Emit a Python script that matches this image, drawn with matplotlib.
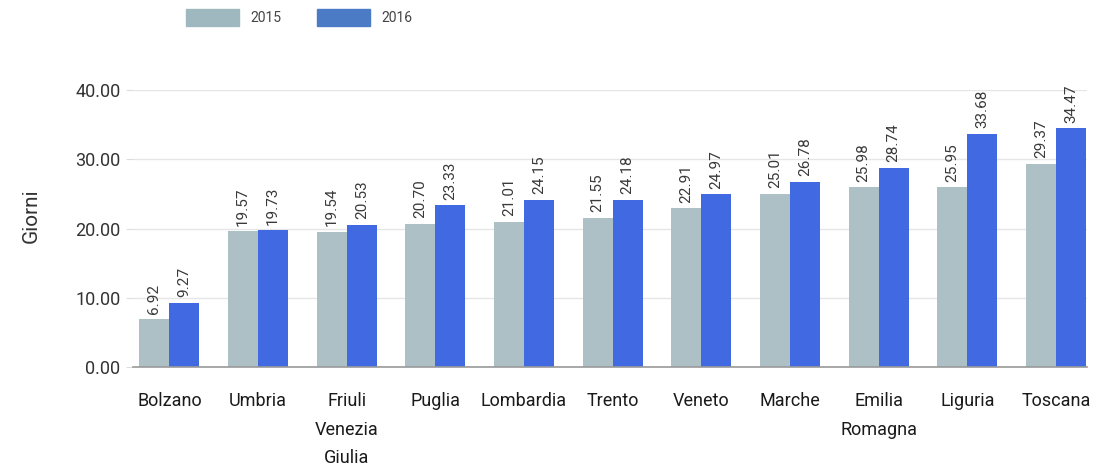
import numpy as np
import matplotlib.pyplot as plt
from matplotlib.patches import Patch

plt.rcParams['font.family'] = ['Roboto', 'DejaVu Sans']

# Giorni per regione, 2015 e 2016
regioni = ['Bolzano', 'Umbria', 'Friuli\nVenezia\nGiulia', 'Puglia', 'Lombardia', 'Trento',
           'Veneto', 'Marche', 'Emilia\nRomagna', 'Liguria', 'Toscana']
giorni_2015 = [6.92, 19.57, 19.54, 20.70, 21.01, 21.55, 22.91, 25.01, 25.98, 25.95, 29.37]
giorni_2016 = [9.27, 19.73, 20.53, 23.33, 24.15, 24.18, 24.97, 26.78, 28.74, 33.68, 34.47]
yticks = [0, 10, 20, 30, 40]

fig = plt.figure(figsize=(11.01, 4.71), dpi=100)
ax = fig.add_axes([0.1208, 0.2208, 0.8665, 0.5881])

x = np.arange(len(regioni))
w = 0.34
b1 = ax.bar(x - w / 2, giorni_2015, w, color='#adc0c6', zorder=2)
b2 = ax.bar(x + w / 2, giorni_2016, w, color='#4169e1', zorder=2)

for bars, vals in [(b1, giorni_2015), (b2, giorni_2016)]:
    for r, v in zip(bars, vals):
        ax.annotate(f'{v:.2f}', (r.get_x() + r.get_width() / 2, v), xytext=(0, 4),
                    textcoords='offset points', rotation=90, ha='center', va='bottom',
                    fontsize=11, color='#3a3a3a', annotation_clip=False)

ax.set_xlim(-0.41, 10.35)
ax.set_ylim(0, 40)
ax.set_yticks(yticks)
ax.set_yticklabels([f'{t:.2f}' for t in yticks], fontsize=13, color='#333333')
ax.set_xticks(x)
ax.set_xticklabels(regioni, fontsize=13, color='#1a1a1a', linespacing=1.75)
ax.tick_params(axis='x', length=0, pad=18)
ax.tick_params(axis='y', length=5, color='#dddddd', pad=4)
ax.grid(axis='y', color='#e6e6e6', linewidth=1, zorder=0)

for s in ['top', 'right', 'left']:
    ax.spines[s].set_visible(False)
ax.spines['bottom'].set_color('#999999')
ax.spines['bottom'].set_linewidth(1.2)
ax.spines['bottom'].set_zorder(3)

fig.text(0.028, 0.543, 'Giorni', rotation=90, ha='center', va='center', fontsize=15, color='#333333')

handles = [Patch(color='#9fb8bf', label='2015'), Patch(color='#4a7bc4', label='2016')]
fig.legend(handles=handles, loc='upper left', bbox_to_anchor=(0.158, 1.008), ncol=2, frameon=False,
           fontsize=10, handlelength=3.8, handleheight=1.5, handletextpad=0.8, columnspacing=2.6,
           labelcolor='#444444')

fig.savefig('out.png', dpi=100)
